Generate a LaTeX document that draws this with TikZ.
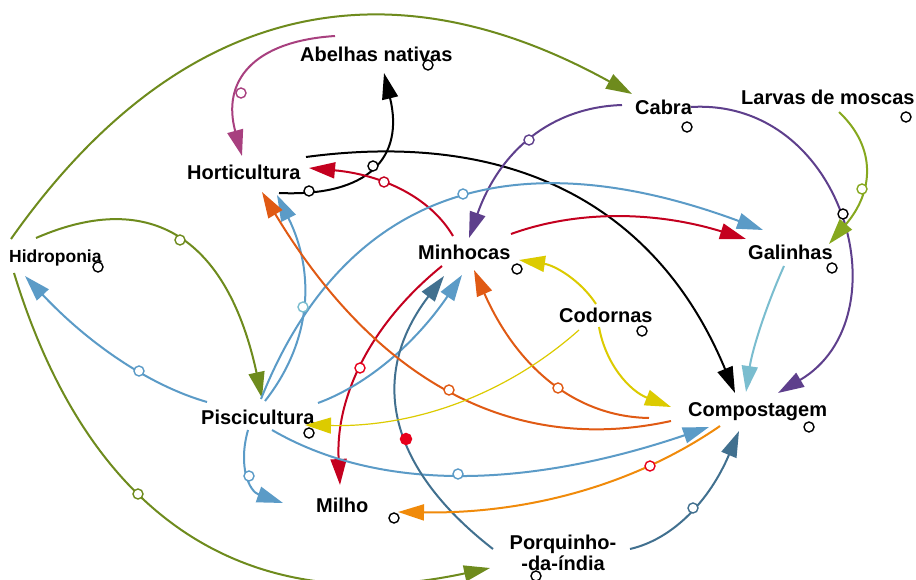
\documentclass[tikz,border=0pt]{standalone}
\usepackage{fontspec}
\setmainfont{Liberation Sans}
\usetikzlibrary{arrows.meta,calc}
\definecolor{cOlive}{HTML}{6E8B1D}
\definecolor{cMag}{HTML}{A8407F}
\definecolor{cRed}{HTML}{C4001F}
\definecolor{cRedB}{HTML}{E8001C}
\definecolor{cPurp}{HTML}{5E3F8C}
\definecolor{cYG}{HTML}{86A81E}
\definecolor{cBlue}{HTML}{5B9BC7}
\definecolor{cDark}{HTML}{41708F}
\definecolor{cOrR}{HTML}{E05A14}
\definecolor{cOrg}{HTML}{F08A0A}
\definecolor{cYel}{HTML}{DCCB00}
\definecolor{cTeal}{HTML}{7ABDCF}
\newcommand\cloop[4]{%
  \coordinate (s) at #2; \coordinate (h) at #3; \coordinate (e) at #4;
  \path let \p1=(s),\p2=(h),\p3=(e) in coordinate (q) at ({2*\x2-0.5*\x1-0.5*\x3},{2*\y2-0.5*\y1-0.5*\y3});
  \draw[#1] (s) .. controls ($(s)!2/3!(q)$) and ($(e)!2/3!(q)$) .. (e);}
\begin{document}
\begin{tikzpicture}[x=1pt,y=-1pt,
  lbl/.style={font=\bfseries\fontsize{20}{21}\selectfont, inner sep=0pt, anchor=base west},
  mk/.style={circle, draw=black, line width=1.4pt, fill=white, minimum size=10pt, inner sep=0pt},
  hg/.style={circle, draw=#1, line width=1.4pt, fill=white, minimum size=10pt, inner sep=0pt},
  ln/.style={line width=2pt, draw=#1, -{Triangle[length=26pt,width=16pt]}}]
\fill[white] (0,0) rectangle (916,580);
\useasboundingbox (0,0) rectangle (916,580);
% nodes
\node[lbl] (abel) at (300,62) {Abelhas nativas};
\node[lbl] (hort) at (187,180) {Horticultura};
\node[lbl] (cabra) at (635,115) {Cabra};
\node[lbl] (larv) at (741,105) {Larvas de moscas};
\node[lbl, font=\bfseries\fontsize{17.5}{20}\selectfont] (hidro) at (9,262) {Hidroponia};
\node[lbl] (minh) at (418,259) {Minhocas};
\node[lbl] (gal) at (748,259) {Galinhas};
\node[lbl] (cod) at (559,322) {Codornas};
\node[lbl] (pisc) at (201,424) {Piscicultura};
\node[lbl] (comp) at (688,416) {Compostagem};
\node[lbl] (milho) at (316,512) {Milho};
\node[lbl, anchor=base] (porq) at (563,570) {\begin{tabular}[b]{@{}c@{}}Porquinho-\\-da-índia\end{tabular}};
% connectors
\cloop{ln=cOlive}{([shift={(2,-23)}]hidro.base west)}{(290,27)}{([shift={(-3,-21)}]cabra.base west)}
\cloop{ln=cOlive}{([shift={(27,-24)}]hidro.base west)}{(180,240)}{([shift={(61,-26)}]pisc.base west)}
\cloop{ln=cOlive}{([shift={(5,11)}]hidro.base west)}{(190,533)}{([shift={(-73,-2)}]porq.base)}
\cloop{ln=cMag}{([shift={(35,-26)}]abel.base west)}{(250,70)}{([shift={(55,-24)}]hort.base west)}
\cloop{ln=black}{([shift={(92,13)}]hort.base west)}{(373,166)}{([shift={(84,11)}]abel.base west)}
\cloop{ln=black}{([shift={(119,-23)}]hort.base west)}{(570,195)}{([shift={(47,-23)}]comp.base west)}
\cloop{ln=cRed}{([shift={(35,-23)}]minh.base west)}{(400,190)}{([shift={(122,-12)}]hort.base west)}
\cloop{ln=cRed}{([shift={(93,-25)}]minh.base west)}{(620,217)}{([shift={(-2,-20)}]gal.base west)}
\cloop{ln=cRed}{([shift={(24,7)}]minh.base west)}{(362,365)}{([shift={(24,-27)}]milho.base west)}
\cloop{ln=cPurp}{([shift={(-13,-10)}]cabra.base west)}{(530,140)}{([shift={(51,-21)}]minh.base west)}
\draw[ln=cPurp] ([shift={(56,-8)}]cabra.base west) .. controls (845,98) and (905,318) .. ([shift={(90,-23)}]comp.base west);
\cloop{ln=cYG}{([shift={(98,7)}]larv.base west)}{(865,172)}{([shift={(81,-15)}]gal.base west)}
\cloop{ln=cBlue}{([shift={(60,-25)}]pisc.base west)}{(448,202)}{([shift={(15,-29)}]gal.base west)}
\cloop{ln=cBlue}{([shift={(64,-23)}]pisc.base west)}{(303,305)}{([shift={(90,15)}]hort.base west)}
\cloop{ln=cBlue}{([shift={(6,-22)}]pisc.base west)}{(118,358)}{([shift={(16,14)}]hidro.base west)}
\cloop{ln=cBlue}{([shift={(117,-21)}]pisc.base west)}{(392,357)}{([shift={(44,16)}]minh.base west)}
\cloop{ln=cBlue}{([shift={(47,6)}]pisc.base west)}{(249,476)}{([shift={(-33,-9)}]milho.base west)}
\cloop{ln=cBlue}{([shift={(71,6)}]pisc.base west)}{(460,475)}{([shift={(21,11)}]comp.base west)}
\cloop{ln=cDark}{([shift={(-70,-21)}]porq.base)}{(400,418)}{([shift={(26,17)}]minh.base west)}
\cloop{ln=cDark}{([shift={(67,-21)}]porq.base)}{(690,512)}{([shift={(51,15)}]comp.base west)}
\cloop{ln=cOrR}{([shift={(-17,5)}]comp.base west)}{(449,390)}{([shift={(75,12)}]hort.base west)}
\cloop{ln=cOrR}{([shift={(-39,2)}]comp.base west)}{(550,380)}{([shift={(56,11)}]minh.base west)}
\cloop{ln=cOrg}{([shift={(32,10)}]comp.base west)}{(575,492)}{([shift={(82,0)}]milho.base west)}
\cloop{ln=cYel}{([shift={(37,-18)}]cod.base west)}{(565,275)}{([shift={(101,1)}]minh.base west)}
\cloop{ln=cYel}{([shift={(40,5)}]cod.base west)}{(622,375)}{([shift={(-17,-9)}]comp.base west)}
\cloop{ln=cYel,line width=1.2pt}{([shift={(20,8)}]cod.base west)}{(455,403)}{([shift={(104,1)}]pisc.base west)}
\cloop{ln=cTeal}{([shift={(36,7)}]gal.base west)}{(760,330)}{([shift={(58,-24)}]comp.base west)}
% hinges
\node[hg=cMag] (h1) at (241,93) {};
\node[hg=black] (h2) at (373,166) {};
\node[hg=cRed] (h3) at (384,182) {};
\node[hg=cOlive] (h4) at (180,240) {};
\node[hg=cBlue] (h5) at (463,194) {};
\node[hg=cPurp] (h6) at (529,140) {};
\node[hg=cYG] (h7) at (862,189) {};
\node[hg=black] (h8) at (843,214) {};
\node[hg=cTeal] (h9) at (303,307) {};
\node[hg=cBlue] (h10) at (139,371) {};
\node[hg=cRedB] (h11) at (360,368) {};
\node[hg=cOrR] (h12) at (449,390) {};
\node[hg=cOrR] (h13) at (558,388) {};
\node[hg=cBlue] (h14) at (249,476) {};
\node[hg=cBlue] (h15) at (458,474) {};
\node[hg=cOlive] (h16) at (138,494) {};
\node[hg=cRedB, fill=cRedB, minimum size=11pt] (h17) at (406,439) {};
\node[hg=cRedB] (h18) at (650,466) {};
\node[hg=cDark] (h19) at (693,508) {};
% node markers
\node[mk] (m1) at (428,65) {};
\node[mk] (m2) at (309,191) {};
\node[mk] (m3) at (687,127) {};
\node[mk] (m4) at (906,117) {};
\node[mk] (m5) at (98,267) {};
\node[mk] (m6) at (517,269) {};
\node[mk] (m7) at (832,268) {};
\node[mk] (m8) at (642,331) {};
\node[mk] (m9) at (309,433) {};
\node[mk] (m10) at (809,427) {};
\node[mk] (m11) at (394,518) {};
\node[mk] (m12) at (536,576) {};
\end{tikzpicture}
\end{document}
